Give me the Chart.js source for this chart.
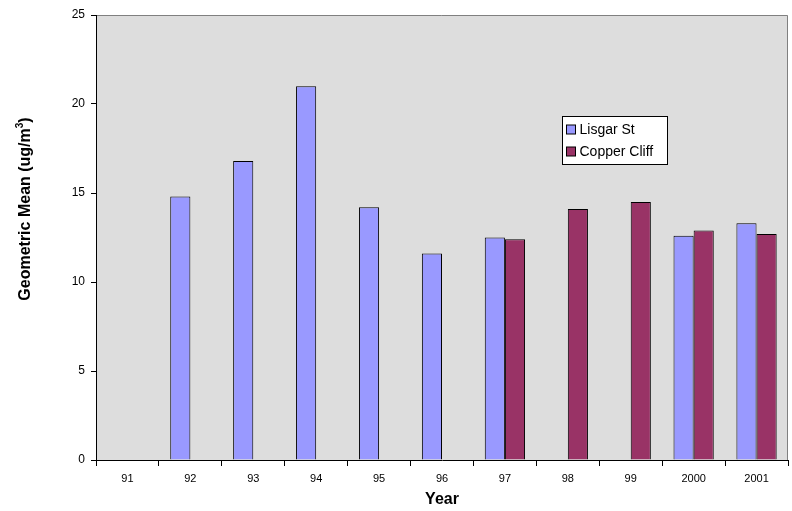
<!DOCTYPE html>
<html>
<head>
<meta charset="utf-8">
<script src="https://cdn.jsdelivr.net/npm/chart.js@4"></script>
<style>
html,body{margin:0;padding:0;background:#fff;}
#wrap{width:792px;height:511px;}
</style>
</head>
<body>
<div id="wrap"><canvas id="c" width="792" height="511"></canvas></div>
<script>
const categories = ["91","92","93","94","95","96","97","98","99","2000","2001"];
const lisgarSt = [null,14.8,16.8,21.0,14.2,11.6,12.5,null,null,12.6,13.3];
const copperCliff = [null,null,null,null,null,null,12.4,14.1,14.5,12.9,12.7];
const seriesNames = ["Lisgar St","Copper Cliff"];
const seriesColors = ["#9999FF","#993366"];
const yTitleParts = ["Geometric Mean (ug/m", "3", ")"];
const xTitle = "Year";

const FONT = "'Liberation Sans', Arial, sans-serif";

const bgPlugin = {
  id: 'bg',
  beforeDraw(chart) {
    const {ctx, chartArea: a} = chart;
    ctx.save();
    ctx.fillStyle = '#DDDDDD';
    ctx.fillRect(a.left, a.top, a.right - a.left, a.bottom - a.top);
    ctx.strokeStyle = '#808080';
    ctx.lineWidth = 1;
    ctx.beginPath();
    ctx.moveTo(a.left, a.top + 0.5);
    ctx.lineTo(a.right - 0.5, a.top + 0.5);
    ctx.lineTo(a.right - 0.5, a.bottom);
    ctx.stroke();
    ctx.restore();
  },
  afterDraw(chart) {
    const ctx = chart.ctx;
    ctx.save();
    // Y axis title (rotated, with superscript)
    const mainFont = "bold 16px " + FONT, supFont = "bold 10px " + FONT;
    ctx.font = mainFont;
    const w1 = ctx.measureText(yTitleParts[0]).width;
    const w3 = ctx.measureText(yTitleParts[2]).width;
    ctx.font = supFont;
    const w2 = ctx.measureText(yTitleParts[1]).width;
    const total = w1 + w2 + w3;
    ctx.translate(30, 209);
    ctx.rotate(-Math.PI / 2);
    ctx.fillStyle = '#000';
    ctx.textAlign = 'left';
    ctx.textBaseline = 'alphabetic';
    let px = -total / 2;
    ctx.font = mainFont;
    ctx.fillText(yTitleParts[0], px, 0); px += w1;
    ctx.font = supFont;
    ctx.fillText(yTitleParts[1], px, -7); px += w2;
    ctx.font = mainFont;
    ctx.fillText(yTitleParts[2], px, 0);
    ctx.setTransform(1, 0, 0, 1, 0, 0);
    // Legend
    const x = 562.5, y = 116.5, w = 105, h = 48;
    ctx.fillStyle = '#FFFFFF';
    ctx.fillRect(x, y, w, h);
    ctx.strokeStyle = '#000';
    ctx.lineWidth = 1;
    ctx.strokeRect(x, y, w, h);
    ctx.font = "14px " + FONT;
    ctx.textBaseline = 'middle';
    ctx.textAlign = 'left';
    for (let i = 0; i < 2; i++) {
      const cy = y + 13 + i * 22;
      ctx.fillStyle = seriesColors[i];
      ctx.fillRect(x + 4, cy - 4.5, 9, 9);
      ctx.strokeRect(x + 4, cy - 4.5, 9, 9);
      ctx.fillStyle = '#000';
      ctx.fillText(seriesNames[i], x + 17, cy + 1);
    }
    ctx.restore();
  }
};

new Chart(document.getElementById('c'), {
  type: 'bar',
  data: {
    labels: categories,
    datasets: [
      {label: seriesNames[0], data: lisgarSt, backgroundColor: seriesColors[0], borderColor: '#000', borderWidth: 1, categoryPercentage: 0.64, barPercentage: 1.0},
      {label: seriesNames[1], data: copperCliff, backgroundColor: seriesColors[1], borderColor: '#000', borderWidth: 1, categoryPercentage: 0.64, barPercentage: 1.0}
    ]
  },
  options: {
    responsive: false,
    animation: false,
    devicePixelRatio: 1,
    layout: {padding: {top: 15, right: 4, left: 0, bottom: 0}},
    plugins: {legend: {display: false}, tooltip: {enabled: false}},
    scales: {
      x: {
        offset: true,
        grid: {display: true, drawOnChartArea: false, offset: true, color: '#000', tickLength: 6, tickColor: '#000'},
        border: {display: true, color: '#000'},
        ticks: {color: '#000', font: {family: FONT, size: 11}, padding: 6, maxRotation: 0},
        title: {display: true, text: xTitle, color: '#000', font: {family: FONT, size: 16, weight: 'bold'}, padding: {top: 6, bottom: 2}},
        afterFit(s) { s.height = 51; }
      },
      y: {
        min: 0, max: 25,
        ticks: {stepSize: 5, color: '#000', font: {family: FONT, size: 12}, padding: 6},
        grid: {display: true, drawOnChartArea: false, color: '#000', tickLength: 5, tickColor: '#000'},
        border: {display: true, color: '#000'},
        title: {display: false},
        afterFit(s) { s.width = 96; }
      }
    }
  },
  plugins: [bgPlugin]
});
</script>
</body>
</html>
